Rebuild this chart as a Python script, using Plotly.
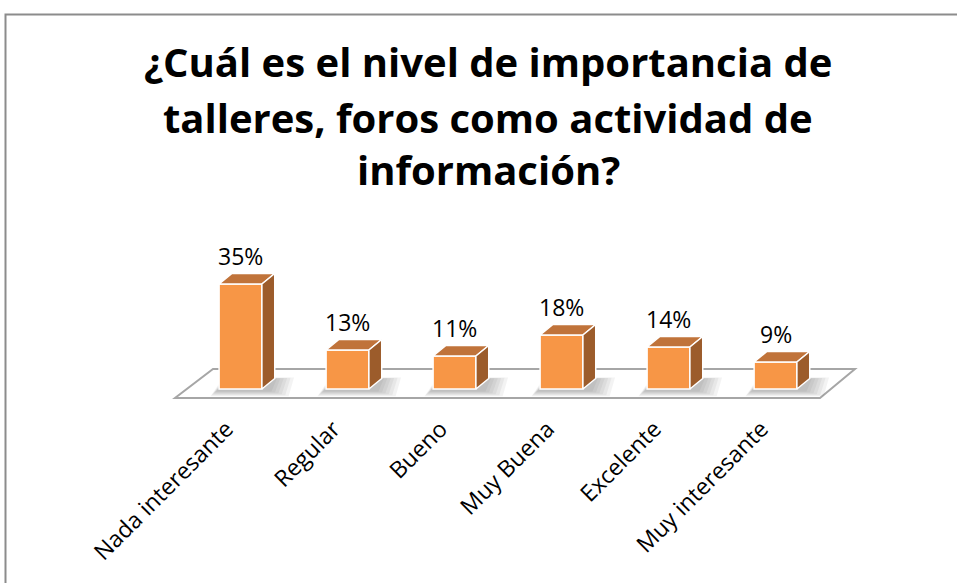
import plotly.graph_objects as go

# Survey answers and their shares (%)
categories = ["Nada interesante", "Regular", "Bueno", "Muy Buena", "Excelente", "Muy interesante"]
percentages = [35, 13, 11, 18, 14, 9]
title_lines = [
    "¿Cuál es el nivel de importancia de",
    "talleres, foros como actividad de",
    "información?",
]

W, H = 957, 583
FONT = "Open Sans"

# pseudo-3D geometry (in axis units)
bar_w = 0.40          # front face width (category units)
depth_x = 0.12        # horizontal depth offset (category units)
depth_y = 3.5         # vertical depth offset (percent units)

FRONT = "#F79646"
TOP = "#C0733A"
SIDE = "#9C5C2B"

n = len(categories)
xs = list(range(n))

fig = go.Figure()

# front faces of the bars
fig.add_trace(go.Bar(
    x=xs, y=percentages, width=bar_w,
    marker=dict(color=FRONT, line=dict(color="white", width=1.5)),
    hoverinfo="skip", showlegend=False,
))

# top and side faces computed from each value
for x, v in zip(xs, percentages):
    l, r = x - bar_w / 2, x + bar_w / 2
    fig.add_trace(go.Scatter(
        x=[l, r, r + depth_x, l + depth_x, l],
        y=[v, v, v + depth_y, v + depth_y, v],
        fill="toself", fillcolor=TOP, mode="lines",
        line=dict(color="white", width=1.5),
        hoverinfo="skip", showlegend=False,
    ))
    fig.add_trace(go.Scatter(
        x=[r, r + depth_x, r + depth_x, r, r],
        y=[0, depth_y, v + depth_y, v, 0],
        fill="toself", fillcolor=SIDE, mode="lines",
        line=dict(color="white", width=1.5),
        hoverinfo="skip", showlegend=False,
    ))

shapes = []

# chart floor (parallelogram)
fx0, fx1 = -0.612, n - 1 + 0.416
fdx, fy0, fy1 = 0.355, -3.0, 6.67
floor_path = (f"M {fx0},{fy0} L {fx1},{fy0} L {fx1 + fdx * 0.92},{fy1} "
              f"L {fx0 + fdx},{fy1} Z")
shapes.append(dict(type="path", path=floor_path, xref="x", yref="y",
                   fillcolor="white", line=dict(color="#A6A6A6", width=2),
                   layer="below"))

# soft shadows cast around the base of each bar (stacked translucent layers)
for x in xs:
    for k in range(6):
        g = (5 - k) / 5.0
        l = x - bar_w / 2 - 0.03 - 0.05 * g
        r = x + bar_w / 2 + depth_x + 0.02 + 0.16 * g
        b = -0.8 - 1.6 * g
        t = depth_y + 0.3 * g
        p = f"M {l},{b} L {r - 0.05},{b} L {r},{t} L {l + 0.12},{t} Z"
        shapes.append(dict(type="path", path=p, xref="x", yref="y",
                           fillcolor="rgba(80,80,80,0.07)",
                           line=dict(width=0), layer="below"))

# outer chart border
shapes.append(dict(type="rect", xref="paper", yref="paper",
                   x0=5.5 / W, x1=1.02, y0=-0.02, y1=1 - 14.5 / H,
                   line=dict(color="#8C8C8C", width=2), fillcolor="rgba(0,0,0,0)",
                   layer="above"))

annotations = []
# value labels
for x, v in zip(xs, percentages):
    annotations.append(dict(
        x=x, y=v, xref="x", yref="y", text=f"{v}%", showarrow=False,
        yanchor="middle", xanchor="center", yshift=28,
        font=dict(family=FONT, size=23, color="black"),
    ))

# title, one annotation per line
for line, yc in zip(title_lines, [62, 117, 169]):
    annotations.append(dict(
        x=488 / W, y=1 - yc / H, xref="paper", yref="paper", text=f"<b>{line}</b>",
        showarrow=False, xanchor="center", yanchor="middle",
        font=dict(family=FONT, size=40, color="black"),
    ))

# axis ranges map categories/percent onto the page
px_per_cat = 107.0
x_origin = 240.5
px_per_pct = 3.0
y_origin = 389.0
label_shift = 0.13    # category labels sit slightly left of the bar centres

fig.update_layout(
    width=W, height=H,
    margin=dict(l=0, r=0, t=0, b=0),
    paper_bgcolor="white", plot_bgcolor="white",
    showlegend=False,
    shapes=shapes, annotations=annotations,
    xaxis=dict(
        range=[-x_origin / px_per_cat, (W - x_origin) / px_per_cat],
        tickmode="array", tickvals=[x - label_shift for x in xs],
        ticktext=categories, tickangle=-45,
        showgrid=False, zeroline=False, showline=False, ticks="",
        anchor="free", position=1 - 410 / H, automargin=False,
        tickfont=dict(family=FONT, size=23, color="black"),
        fixedrange=True,
    ),
    yaxis=dict(
        range=[(y_origin - H) / px_per_pct, y_origin / px_per_pct],
        visible=False, fixedrange=True,
    ),
)

fig.write_html("out.html")
